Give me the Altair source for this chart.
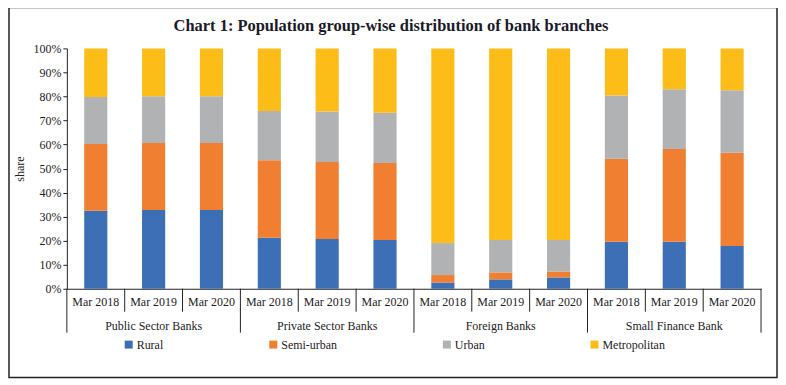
import altair as alt
import pandas as pd

groups = ["Public Sector Banks", "Private Sector Banks", "Foreign Banks", "Small Finance Bank"]
years = ["Mar 2018", "Mar 2019", "Mar 2020"]
categories = ["Rural", "Semi-urban", "Urban", "Metropolitan"]
colors = ["#3D6FB6", "#F07F31", "#B1B2B3", "#FDBD18"]

# share (%) of each population group, per bank group, per year (Mar 2018, Mar 2019, Mar 2020)
rural = [32.5, 32.8, 32.8, 21.2, 20.7, 20.3, 2.6, 3.9, 4.7, 19.6, 19.6, 17.8]
semi_urban = [27.7, 27.8, 27.8, 32.3, 32.0, 32.0, 3.1, 2.9, 2.5, 34.5, 38.5, 38.8]
urban = [19.6, 19.5, 19.5, 20.5, 21.0, 20.9, 13.3, 13.5, 13.1, 26.3, 24.9, 26.0]
metropolitan = [20.2, 19.9, 19.9, 26.0, 26.3, 26.8, 81.0, 79.7, 79.7, 19.6, 17.0, 17.4]

keys = [f"{g}|{y}" for g in groups for y in years]
series = [rural, semi_urban, urban, metropolitan]

rows = []
for ci, (cat, vals) in enumerate(zip(categories, series)):
    for k, v in zip(keys, vals):
        rows.append({"key": k, "category": cat, "share": v, "ord": ci})
df = pd.DataFrame(rows)

FONT = "Liberation Serif"
W, H = 696, 241

xscale = alt.Scale(domain=keys, paddingInner=0, paddingOuter=0)
xaxis = alt.Axis(labelExpr="split(datum.label, '|')[1]", ticks=False,
                 labelPadding=8, labelAngle=0, domainColor="#222222",
                 labelFontSize=12, labelColor="#222222", title=None)


def xenc(band=0.5):
    return alt.X("key:N", sort=keys, scale=xscale, title=None, axis=xaxis, bandPosition=band)


bars = alt.Chart(df).mark_bar(width=alt.RelativeBandSize(0.4)).encode(
    x=xenc(),
    y=alt.Y("share:Q", stack="zero", scale=alt.Scale(domain=[0, 100], nice=False),
            axis=alt.Axis(values=list(range(0, 101, 10)), labelExpr="datum.value + '%'",
                          grid=False, tickSize=4, labelPadding=2, domainColor="#222222",
                          tickColor="#222222", titlePadding=6, labelFontSize=12,
                          labelColor="#222222", titleFontWeight="normal",
                          titleFontSize=12, titleColor="#222222"),
            title="share"),
    color=alt.Color("category:N", sort=categories,
                    scale=alt.Scale(domain=categories, range=colors),
                    legend=alt.Legend(orient="none", legendX=56, legendY=291,
                                      direction="horizontal", title=None,
                                      columnPadding=104, symbolType="square",
                                      symbolSize=64, symbolStrokeWidth=0,
                                      labelFontSize=12, labelColor="#222222",
                                      labelOffset=2)),
    order=alt.Order("ord:Q", sort="ascending"),
)

inner_keys = [f"{g}|{y}" for g in groups for y in years[1:]]
group_keys = [f"{g}|{years[0]}" for g in groups]

inner_rules = alt.Chart(pd.DataFrame({"key": inner_keys})).mark_rule(
    color="#222222", strokeWidth=1).encode(
    x=xenc(0), y=alt.value(H), y2=alt.value(H + 23))

group_rules = alt.Chart(pd.DataFrame({"key": group_keys})).mark_rule(
    color="#222222", strokeWidth=1).encode(
    x=xenc(0), y=alt.value(H), y2=alt.value(H + 44))

end_rule = alt.Chart(pd.DataFrame({"key": [keys[-1]]})).mark_rule(
    color="#222222", strokeWidth=1).encode(
    x=xenc(1), y=alt.value(H), y2=alt.value(H + 44))

group_labels = alt.Chart(pd.DataFrame({"key": [f"{g}|{years[1]}" for g in groups],
                                       "group": groups})).mark_text(
    font=FONT, fontSize=12, color="#222222", baseline="middle").encode(
    x=xenc(0.5), y=alt.value(H + 37), text="group:N")

frame = alt.Chart(pd.DataFrame({"a": [0]})).mark_rect(
    fill=None, stroke="#222222", strokeWidth=1.5).encode(
    x=alt.value(-58), x2=alt.value(712), y=alt.value(-41), y2=alt.value(330))

chart = alt.layer(frame, bars, inner_rules, group_rules, end_rule, group_labels).properties(
    width=W, height=H,
    title=alt.TitleParams("Chart 1: Population group-wise distribution of bank branches",
                          anchor="middle", dx=-23, fontSize=16.5, font=FONT,
                          fontWeight="bold", color="#1a1a2a", offset=-28),
    autosize=alt.AutoSizeParams(type="none"),
    padding={"left": 59, "top": 40, "right": 17, "bottom": 92},
).configure(font=FONT).configure_view(stroke=None).configure_axis(
    labelFont=FONT, titleFont=FONT).configure_legend(labelFont=FONT)

chart.save("out.html", embed_options={"renderer": "svg", "actions": False})
